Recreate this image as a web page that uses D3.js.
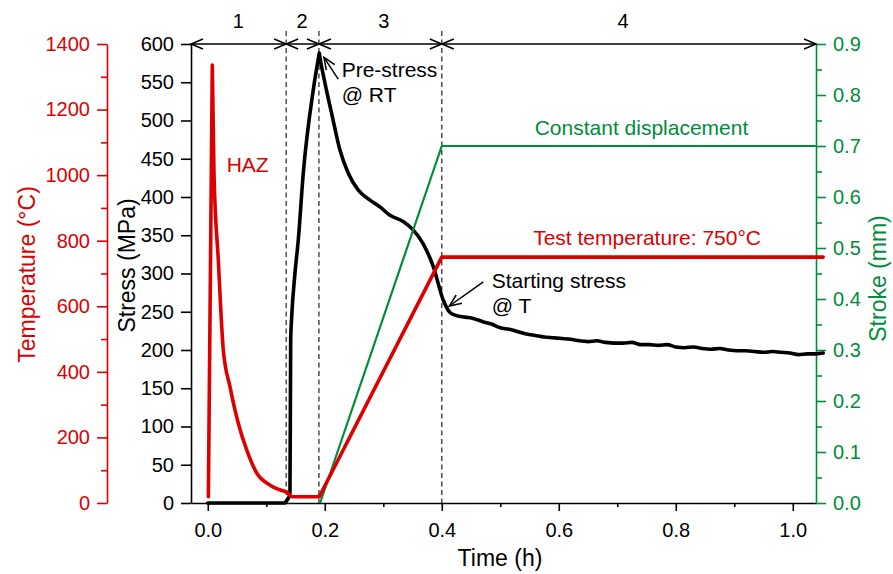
<!DOCTYPE html>
<html><head><meta charset="utf-8">
<script src="https://cdn.jsdelivr.net/npm/d3@7"></script>
<style>
body{margin:0;background:#fff;}
svg{display:block;font-family:"Liberation Sans",Arial,sans-serif;}
</style></head><body>
<svg id="c" width="893" height="574"></svg>
<script>
// ---- data ----
const tempTime  = [0.001,0.0077,0.0106,0.018,0.0265,0.038,0.052,0.0665,0.0836,0.106,0.134,0.1434,0.1906,0.40,1.052];
const tempValue = [19,1336,1006,741,467,354,244,162,91.5,55,34,19,19,750,750];

const strokeTime  = [0.192,0.40,1.0397];
const strokeValue = [0,0.7,0.7];

const stressTime = [0,0.132,0.1376,0.1405,0.1417,0.1434,0.149,0.1547,0.1632,0.1803,0.1906,
  0.1925,0.2003,0.2118,0.226,0.2402,0.2573,0.2773,0.2944,0.3115,0.334,0.351,0.368,0.3855,
  0.4026,0.414,0.425,0.44,0.455,0.47,0.485,0.50,0.515,0.53,0.545,0.56,0.575,0.59,0.605,
  0.62,0.635,0.65,0.665,0.68,0.695,0.71,0.725,0.74,0.755,0.77,0.785,0.80,0.815,0.83,
  0.845,0.86,0.875,0.89,0.905,0.92,0.935,0.95,0.965,0.98,0.995,1.01,1.025,1.04,1.052];
const stressValue = [0,0,6,13,213,243,300,344,431,540,588,
  579,549,509,461,431,409,396,387,376,368,357,339,309,
  265,249,245,243,241,237,234,229,227,224,221,219,217,216,215,
  214,212,211,212,210,209,209,210,207,207,206,207,204,203,204,
  202,201,202,200,199,199,198,197,198,197,196,194,195,195,196];
// index ranges of stress pieces: flat start, loading ramp, relaxation
const stressPieces = [[0,2,"linear"],[2,10,"smooth"],[10,68,"smooth"]];
const tempPieces = [[0,1,"linear"],[1,10,"smooth"],[10,14,"linear"]];

const stageBounds = [-0.0287,0.134,0.19,0.40,1.0397];
const stageLabels = ["1","2","3","4"];
const stageLabelTime = [0.052,0.161,0.301,0.71];
const dashedTimes = [0.134,0.19,0.40];

const xTicks = [0,0.2,0.4,0.6,0.8,1.0];
const xMinor = [0.1,0.3,0.5,0.7,0.9];
const stressTicks = [0,50,100,150,200,250,300,350,400,450,500,550,600];
const tempTicks = [0,200,400,600,800,1000,1200,1400];
const tempMinor = [100,300,500,700,900,1100,1300];
const strokeTicks = [0,0.1,0.2,0.3,0.4,0.5,0.6,0.7,0.8,0.9];
const strokeMinor = [0.05,0.15,0.25,0.35,0.45,0.55,0.65,0.75,0.85];

const RED="#dc0000", GREEN="#008c3a";

// ---- scales ----
const x = d3.scaleLinear().domain([-0.0287,1.0397]).range([191,816]);
const yS = d3.scaleLinear().domain([0,600]).range([503,44]);
const yT = d3.scaleLinear().domain([0,1400]).range([503,44]);
const yK = d3.scaleLinear().domain([0,0.9]).range([503,44]);

const svg = d3.select("#c");
const FS = 20;

// dashed stage lines
svg.selectAll("line.dash").data(dashedTimes).enter().append("line")
  .attr("x1",d=>x(d)).attr("x2",d=>x(d)).attr("y1",31).attr("y2",yS(0))
  .attr("stroke","#333").attr("stroke-width",1.3).attr("stroke-dasharray","5,3.5");

// axes
function styleAxis(g,color){
  g.selectAll("path").attr("stroke",color).attr("stroke-width",1.6);
  g.selectAll("line").attr("stroke",color).attr("stroke-width",1.6);
  g.selectAll("text").attr("fill",color).attr("font-size",FS).attr("font-family","Liberation Sans, Arial, sans-serif");
}
const gx = svg.append("g").attr("transform",`translate(0,${yS(0)})`)
  .call(d3.axisBottom(x).tickValues(xTicks).tickFormat(d3.format(".1f")).tickSizeInner(8).tickSizeOuter(0).tickPadding(12));
styleAxis(gx,"#000");
const gxm = svg.append("g").attr("transform",`translate(0,${yS(0)})`)
  .call(d3.axisBottom(x).tickValues(xMinor).tickFormat("").tickSizeInner(4).tickSizeOuter(0));
gxm.select("path").remove(); styleAxis(gxm,"#000");

const gs = svg.append("g").attr("transform",`translate(${x.range()[0]},0)`)
  .call(d3.axisLeft(yS).tickValues(stressTicks).tickFormat(d3.format("d")).tickSizeInner(10).tickSizeOuter(0).tickPadding(7));
styleAxis(gs,"#000");

const gt = svg.append("g").attr("transform",`translate(107,0)`)
  .call(d3.axisLeft(yT).tickValues(tempTicks).tickFormat(d3.format("d")).tickSizeInner(10).tickSizeOuter(0).tickPadding(7));
styleAxis(gt,RED);
const gtm = svg.append("g").attr("transform",`translate(107,0)`)
  .call(d3.axisLeft(yT).tickValues(tempMinor).tickFormat("").tickSizeInner(6).tickSizeOuter(0));
gtm.select("path").remove(); styleAxis(gtm,RED);

const gk = svg.append("g").attr("transform",`translate(${x.range()[1]},0)`)
  .call(d3.axisRight(yK).tickValues(strokeTicks).tickFormat(d3.format(".1f")).tickSizeInner(10).tickSizeOuter(0).tickPadding(7));
styleAxis(gk,GREEN);
const gkm = svg.append("g").attr("transform",`translate(${x.range()[1]},0)`)
  .call(d3.axisRight(yK).tickValues(strokeMinor).tickFormat("").tickSizeInner(6).tickSizeOuter(0));
gkm.select("path").remove(); styleAxis(gkm,GREEN);

// axis titles
const TF = 23;
svg.append("text").attr("transform",`translate(35,${(yT(0)+yT(1400))/2+1}) rotate(-90)`)
  .attr("text-anchor","middle").attr("font-size",TF).attr("fill",RED).text("Temperature (°C)");
svg.append("text").attr("transform",`translate(135,${(yS(0)+yS(600))/2-8}) rotate(-90)`)
  .attr("text-anchor","middle").attr("font-size",TF).attr("fill","#000").text("Stress (MPa)");
svg.append("text").attr("transform",`translate(886,${(yK(0)+yK(0.9))/2+5}) rotate(-90)`)
  .attr("text-anchor","middle").attr("font-size",TF).attr("fill",GREEN).text("Stroke (mm)");
svg.append("text").attr("x",500).attr("y",566).attr("text-anchor","middle")
  .attr("font-size",TF).attr("fill","#000").text("Time (h)");

// curves (pieces joined; smooth pieces use monotone interpolation)
function piecewisePath(pts,pieces){
  return pieces.map(([a,b,kind])=>{
    const ln = d3.line().x(d=>x(d[0])).y(d=>d[1])
      .curve(kind==="smooth"?d3.curveMonotoneX:d3.curveLinear);
    return ln(pts.slice(a,b+1));
  }).join("");
}
const stressPts = stressTime.map((t,i)=>[t,yS(stressValue[i])]);
const tempPts = tempTime.map((t,i)=>[t,yT(tempValue[i])]);
const strokePts = strokeTime.map((t,i)=>[t,yK(strokeValue[i])]);

svg.append("path").attr("d",piecewisePath(stressPts,stressPieces)).attr("fill","none").attr("stroke","#000")
  .attr("stroke-width",3.6).attr("stroke-linejoin","round").attr("stroke-linecap","round");
svg.append("path").attr("d",d3.line().x(d=>x(d[0])).y(d=>d[1])(strokePts)).attr("fill","none").attr("stroke",GREEN)
  .attr("stroke-width",2.2);
svg.append("path").attr("d",piecewisePath(tempPts,tempPieces)).attr("fill","none").attr("stroke",RED)
  .attr("stroke-width",3.6).attr("stroke-linejoin","round").attr("stroke-linecap","round");

// stage arrows
const yA = yS(600);
function chevron(xTip,yTip,ang){
  const L=12,W=5;
  const ca=Math.cos(ang), sa=Math.sin(ang);
  const bx=xTip-L*ca, by=yTip-L*sa;
  return `M${bx - W*sa},${by + W*ca}L${xTip},${yTip}L${bx + W*sa},${by - W*ca}`;
}
for(let i=0;i<stageLabels.length;i++){
  const a=x(stageBounds[i]), b=x(stageBounds[i+1]);
  svg.append("line").attr("x1",a).attr("x2",b).attr("y1",yA).attr("y2",yA)
    .attr("stroke","#000").attr("stroke-width",1.5);
  svg.append("path").attr("d",chevron(a,yA,Math.PI)+chevron(b,yA,0))
    .attr("fill","none").attr("stroke","#000").attr("stroke-width",1.5);
  svg.append("text").attr("x",x(stageLabelTime[i])).attr("y",28).attr("text-anchor","middle")
    .attr("font-size",FS).attr("fill","#000").text(stageLabels[i]);
}

// annotations
const arrows = [
  {from:[0.223,554],to:[0.1986,582.6]},
  {from:[0.471,289],to:[0.4128,257.5]}
];
arrows.forEach(a=>{
  const x1=x(a.from[0]), y1=yS(a.from[1]), x2=x(a.to[0]), y2=yS(a.to[1]);
  const ang=Math.atan2(y2-y1,x2-x1);
  svg.append("line").attr("x1",x1).attr("y1",y1).attr("x2",x2).attr("y2",y2)
    .attr("stroke","#000").attr("stroke-width",1.5);
  svg.append("path").attr("d",chevron(x2,y2,ang)).attr("fill","none").attr("stroke","#000").attr("stroke-width",1.5);
});
const AF=21;
const notes = [
  {t:"HAZ",x:0.0323,s:433,anchor:"start",c:RED},
  {t:"Pre-stress",x:0.2289,s:556.5,anchor:"start",c:"#000"},
  {t:"@ RT",x:0.2289,s:524.6,anchor:"start",c:"#000"},
  {t:"Constant displacement",x:0.7414,s:481,anchor:"middle",c:GREEN},
  {t:"Test temperature: 750°C",x:0.751,s:337,anchor:"middle",c:RED},
  {t:"Starting stress",x:0.4853,s:280.7,anchor:"start",c:"#000"},
  {t:"@ T",x:0.4853,s:248,anchor:"start",c:"#000"}
];
svg.selectAll("text.note").data(notes).enter().append("text").attr("class","note")
  .attr("x",d=>x(d.x)).attr("y",d=>yS(d.s)).attr("text-anchor",d=>d.anchor)
  .attr("font-size",AF).attr("fill",d=>d.c).text(d=>d.t);
</script>
</body></html>
